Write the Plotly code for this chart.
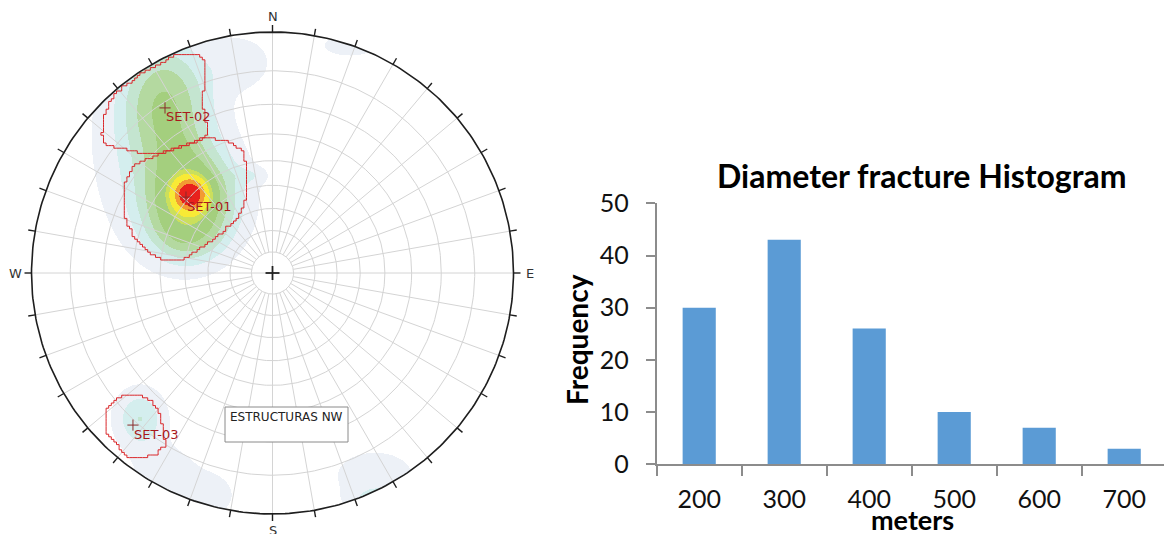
import numpy as np
import plotly.graph_objects as go

# ---------------- histogram data ----------------
diam_labels = ['200', '300', '400', '500', '600', '700']
diam_freq = [30, 43, 26, 10, 7, 3]
freq_ticks = [0, 10, 20, 30, 40, 50]

# ---------------- stereonet data (net coords: x east, y north, primitive radius 1) ----
# pole-density clusters
clus_x = [-0.342, -0.342, -0.448, -0.392, -0.467, -0.135, 0.322, -0.550, -0.446, -0.259, 0.425, 0.438, -0.093, -0.363]
clus_y = [0.328, 0.303, 0.710, 0.510, 0.510, 0.876, 0.946, -0.602, -0.817, -0.921, -0.838, -0.942, 0.407, 0.158]
clus_sx = [0.0444, 0.124, 0.116, 0.075, 0.187, 0.091, 0.104, 0.071, 0.10, 0.08, 0.13, 0.08, 0.05, 0.091]
clus_sy = [0.0444, 0.133, 0.166, 0.083, 0.261, 0.075, 0.041, 0.083, 0.08, 0.07, 0.08, 0.035, 0.025, 0.075]
clus_w = [9.0, 3.6, 2.15, 0.4, 0.8, 0.6, 0.5, 1.3, 0.55, 0.55, 0.6, 0.9, 0.5, 1.0]
band_levels = [0.3, 0.8, 1.3, 1.9, 2.6, 4.0, 5.0, 7.2, 9.5]
band_colors = ['#edf1f7', '#d4eeee', '#c4e5d0', '#b4d9a0', '#a4cf7e',
               '#cbdf5c', '#f8ea36', '#f29a33', '#e8211d']

# set windows
set01_x = [-0.268, -0.185, -0.118, -0.106, -0.110, -0.139, -0.214, -0.297, -0.371, -0.442,
           -0.512, -0.579, -0.612, -0.620, -0.579, -0.500, -0.413, -0.326]
set01_y = [0.564, 0.544, 0.502, 0.402, 0.299, 0.228, 0.158, 0.100, 0.050, 0.054,
           0.091, 0.158, 0.241, 0.357, 0.444, 0.485, 0.515, 0.544]
set02_x = [-0.649, -0.550, -0.479, -0.405, -0.326, -0.276, -0.284, -0.293, -0.268, -0.276,
           -0.355, -0.442, -0.512, -0.612, -0.687, -0.707, -0.699, -0.670]
set02_y = [0.751, 0.826, 0.867, 0.905, 0.909, 0.880, 0.772, 0.701, 0.589, 0.560,
           0.531, 0.502, 0.494, 0.515, 0.531, 0.581, 0.660, 0.718]
set03_x = [-0.620, -0.558, -0.500, -0.463, -0.454, -0.442, -0.479, -0.541, -0.591, -0.641,
           -0.691, -0.687, -0.658]
set03_y = [-0.502, -0.502, -0.539, -0.589, -0.664, -0.718, -0.755, -0.768, -0.768, -0.714,
           -0.656, -0.560, -0.527]
set_names = ['SET-01', 'SET-02', 'SET-03']
set_mean_x = [-0.359, -0.446, -0.579]
set_mean_y = [0.315, 0.685, -0.631]

grid_dips = [10, 20, 30, 40, 50, 60, 70, 80]
spoke_step = 10
compass = ['N', 'E', 'S', 'W']
net_title = 'ESTRUCTURAS NW'

# ---------------- geometry of the page ----------------
W, H = 1164, 534
R_PX = 241.0
CX, CY = 272.5, 273.0
NET_W = 546.0

fig = go.Figure()

# density field
n = 483
gx = np.linspace(-1, 1, n)
XX, YY = np.meshgrid(gx, gx)
D = np.zeros_like(XX)
for cx, cy, sx, sy, w in zip(clus_x, clus_y, clus_sx, clus_sy, clus_w):
    D += w * np.exp(-0.5 * (((XX - cx) / sx) ** 2 + ((YY - cy) / sy) ** 2))
band = np.digitize(D, band_levels).astype(float)
band[band == 0] = np.nan
band[XX ** 2 + YY ** 2 > 1.0] = np.nan
cs = []
nb = len(band_colors)
for k, c in enumerate(band_colors):
    cs.append([k / nb, c])
    cs.append([(k + 1) / nb, c])
fig.add_trace(go.Heatmap(x=gx, y=gx, z=band, colorscale=cs, zmin=0.5, zmax=nb + 0.5,
                         showscale=False, hoverinfo='skip', zsmooth=False,
                         xaxis='x', yaxis='y'))

# polar grid
gxs, gys = [], []
t = np.linspace(0, 2 * np.pi, 361)
for d in grid_dips:
    r = np.tan(np.radians(d / 2))
    gxs += list(r * np.cos(t)) + [None]
    gys += list(r * np.sin(t)) + [None]
r0 = np.tan(np.radians(grid_dips[0] / 2))
for az in range(0, 360, spoke_step):
    a = np.radians(az)
    if az % 90 == 0:
        continue
    gxs += [r0 * np.sin(a), np.sin(a), None]
    gys += [r0 * np.cos(a), np.cos(a), None]
gxs += [-1, 1, None, 0, 0, None]
gys += [0, 0, None, -1, 1, None]
fig.add_trace(go.Scatter(x=gxs, y=gys, mode='lines', line=dict(color='#d4d4d4', width=1),
                         hoverinfo='skip', xaxis='x', yaxis='y'))

# set windows with stepped outline
def stepped(xs, ys, step=2.6 / R_PX):
    xs = list(xs) + [xs[0]]
    ys = list(ys) + [ys[0]]
    ox, oy = [], []
    for i in range(len(xs) - 1):
        L = np.hypot(xs[i + 1] - xs[i], ys[i + 1] - ys[i])
        m = max(1, int(L / step))
        for j in range(m):
            f = j / m
            ox.append(np.round((xs[i] + f * (xs[i + 1] - xs[i])) / step) * step)
            oy.append(np.round((ys[i] + f * (ys[i + 1] - ys[i])) / step) * step)
    ox.append(ox[0]); oy.append(oy[0])
    return ox, oy

for sx_, sy_ in [(set01_x, set01_y), (set02_x, set02_y), (set03_x, set03_y)]:
    ox, oy = stepped(sx_, sy_)
    fig.add_trace(go.Scatter(x=ox, y=oy, mode='lines', line=dict(color='#d9272a', width=1, shape='hv'),
                             hoverinfo='skip', xaxis='x', yaxis='y'))

# primitive and ticks
fig.add_trace(go.Scatter(x=np.cos(t), y=np.sin(t), mode='lines', line=dict(color='#1e1e1e', width=1.6),
                         hoverinfo='skip', xaxis='x', yaxis='y'))
txs, tys = [], []
for az in range(0, 360, 10):
    a = np.radians(az)
    txs += [np.sin(a), (1 + 7 / R_PX) * np.sin(a), None]
    tys += [np.cos(a), (1 + 7 / R_PX) * np.cos(a), None]
fig.add_trace(go.Scatter(x=txs, y=tys, mode='lines', line=dict(color='#1e1e1e', width=1.4),
                         hoverinfo='skip', xaxis='x', yaxis='y'))
# centre cross
c = 7 / R_PX
fig.add_trace(go.Scatter(x=[-c, c, None, 0, 0], y=[0, 0, None, -c, c], mode='lines',
                         line=dict(color='#222222', width=1.8), hoverinfo='skip', xaxis='x', yaxis='y'))
# set means
fig.add_trace(go.Scatter(x=set_mean_x, y=set_mean_y, mode='markers',
                         marker=dict(symbol='cross-thin', size=8, line=dict(color='#8a2a2a', width=1)),
                         hoverinfo='skip', xaxis='x', yaxis='y'))

ann = []
for name, mx, my in zip(set_names, set_mean_x, set_mean_y):
    ann.append(dict(x=mx - 1 / R_PX, y=my - 9 / R_PX, xref='x', yref='y', text=name, showarrow=False,
                    xanchor='left', yanchor='middle',
                    font=dict(family='DejaVu Sans', size=13, color='#a8191c')))
off = 1 + 16 / R_PX
for lab, az in zip(compass, [0, 90, 180, 270]):
    a = np.radians(az)
    ann.append(dict(x=off * np.sin(a), y=off * np.cos(a),
                    xref='x', yref='y', text=lab, showarrow=False, xanchor='center', yanchor='middle',
                    font=dict(family='DejaVu Sans', size=13, color='#333333')))
ann.append(dict(x=(286 - CX) / R_PX, y=(CY - 417) / R_PX, xref='x', yref='y', text=net_title,
                showarrow=False, xanchor='center', yanchor='middle',
                font=dict(family='DejaVu Sans', size=12, color='#222222')))

shapes = [dict(type='rect', xref='x', yref='y', x0=(225 - CX) / R_PX, x1=(348 - CX) / R_PX,
               y0=(CY - 407) / R_PX, y1=(CY - 442) / R_PX,
               line=dict(color='#8a8a8a', width=1), fillcolor='rgba(255,255,255,1)', layer='above')]

# ---------------- histogram ----------------
fig.add_trace(go.Bar(x=diam_labels, y=diam_freq, marker=dict(color='#5b9bd5', line=dict(width=0)),
                     width=0.39, xaxis='x2', yaxis='y2', hoverinfo='skip'))

x0_px, y0_px, y50_px = 656.7, 464.3, 203.3
ann.append(dict(x=922 / W, y=1 - 175 / H, xref='paper', yref='paper', text='<b>Diameter fracture Histogram</b>',
                showarrow=False, xanchor='center', yanchor='middle',
                font=dict(family='Lato', size=32, color='#000000')))
ann.append(dict(x=912 / W, y=1 - 519 / H, xref='paper', yref='paper', text='<b>meters</b>',
                showarrow=False, xanchor='center', yanchor='middle',
                font=dict(family='Lato', size=27, color='#000000')))
ann.append(dict(x=577 / W, y=1 - 340 / H, xref='paper', yref='paper', text='<b>Frequency</b>',
                showarrow=False, xanchor='center', yanchor='middle', textangle=-90,
                font=dict(family='Lato', size=28, color='#000000')))

fig.update_layout(
    width=W, height=H, margin=dict(l=0, r=0, t=0, b=0, autoexpand=False),
    paper_bgcolor='white', plot_bgcolor='rgba(0,0,0,0)', showlegend=False,
    xaxis=dict(domain=[0, NET_W / W], range=[-CX / R_PX, (NET_W - CX) / R_PX],
               visible=False, fixedrange=True, automargin=False),
    yaxis=dict(domain=[0, 1], range=[-(H - CY) / R_PX, CY / R_PX], visible=False, fixedrange=True,
               automargin=False),
    xaxis2=dict(domain=[x0_px / W, 1], range=[-0.5, -0.5 + (W - x0_px) / 85.0], type='category',
                tickson='boundaries', ticks='outside', ticklen=10, tickwidth=2, tickcolor='#8c8c8c',
                showline=True, linewidth=2, linecolor='#8c8c8c', showgrid=False, zeroline=False,
                anchor='y2', ticklabelstandoff=12, automargin=False,
                tickfont=dict(family='Lato', size=25, color='#111111')),
    yaxis2=dict(domain=[(H - y0_px) / H, (H - y50_px) / H], range=[0, 50], tickvals=freq_ticks,
                ticks='outside', ticklen=9, tickwidth=2, tickcolor='#8c8c8c',
                showline=True, linewidth=2, linecolor='#8c8c8c', showgrid=False, zeroline=False,
                anchor='x2', ticklabelstandoff=12, automargin=False,
                tickfont=dict(family='Lato', size=25, color='#111111')),
    annotations=ann, shapes=shapes, bargap=0.61,
)

fig.write_html('out.html')
